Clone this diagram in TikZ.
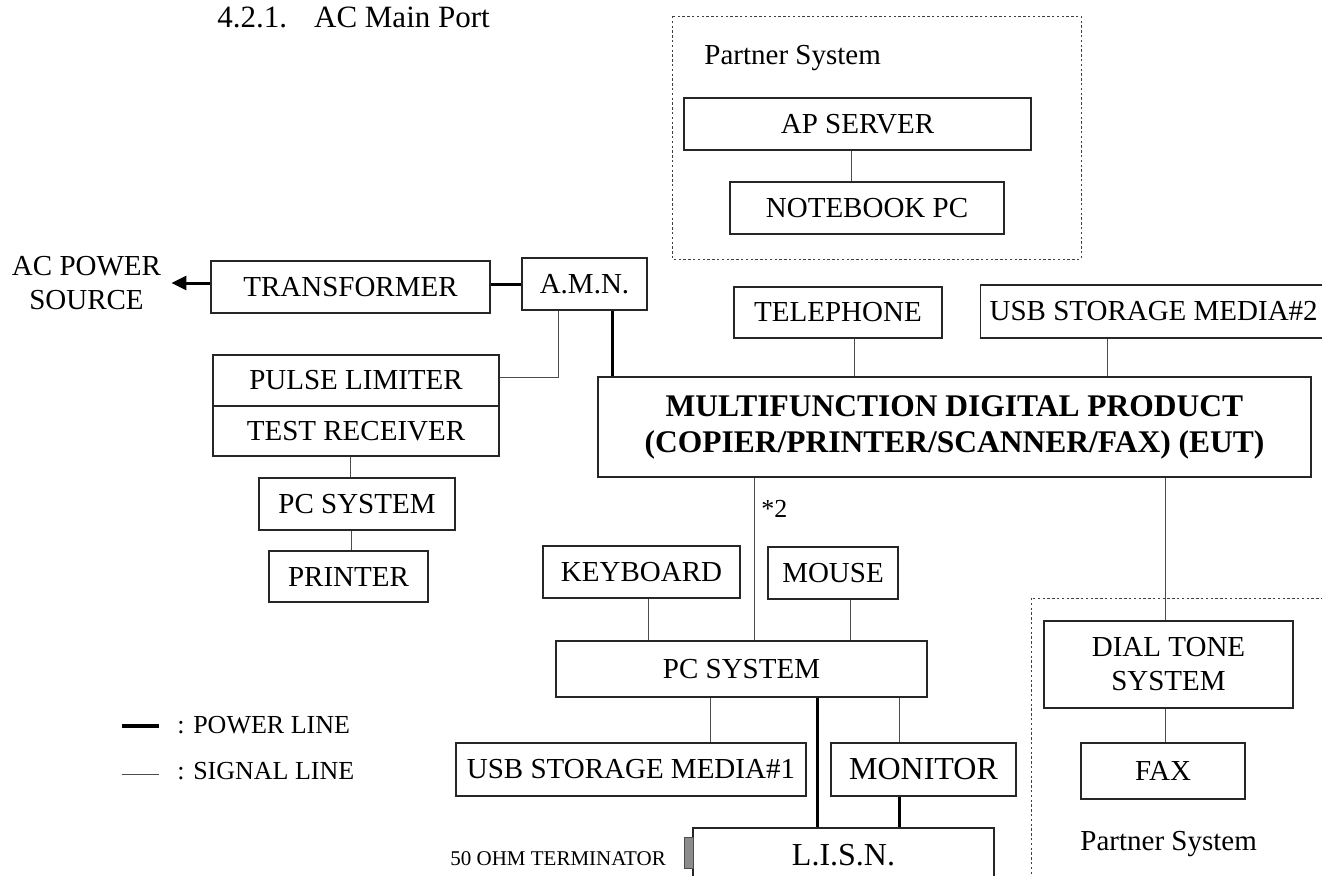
\documentclass[tikz,border=0pt]{standalone}
\usepackage{fontspec}
\setmainfont{Liberation Serif}
\usetikzlibrary{arrows.meta}

\newcommand{\unitfont}{\fontsize{14.5}{17}\selectfont}
\newcommand{\bigfont}{\fontsize{16}{18}\selectfont}
\newcommand{\mfdfont}{\fontsize{15.75}{18}\selectfont\bfseries}
\newcommand{\legfont}{\fontsize{13}{15}\selectfont}
\newcommand{\termfont}{\fontsize{10.5}{12}\selectfont}

\begin{document}
\begin{tikzpicture}[x=0.5pt,y=0.5pt,yscale=-1,
    unit/.style={draw=black!85,line width=0.6pt,inner sep=0pt,font=\unitfont,align=center},
    wh/.style 2 args={minimum width=#1*0.5pt,minimum height=#2*0.5pt},
    signal/.style={draw=black!70,line width=0.5pt},
    power/.style={draw=black,line width=1.5pt},
    partner/.style={draw=black!75,line width=0.5pt,dash pattern={on 1.2pt off 1.2pt}}]
\useasboundingbox (0,0) rectangle (1322,875);
\clip (0,0) rectangle (1322,875);

% Title
\node[anchor=base west,inner sep=0pt,font=\fontsize{15.5}{18}\selectfont] (title) at (217,27) {4.2.1.\hspace{13.5pt}AC Main Port};

% Partner systems
\draw[partner] (672,16) rectangle (1081,259);
\draw[partner] (1031,598) rectangle (1360,900);
\node[anchor=base west,inner sep=0pt,font=\unitfont] (ptop) at (704,64) {Partner System};
\node[anchor=base west,inner sep=0pt,font=\unitfont] (pbot) at (1080,850) {Partner System};

% Units
\node[inner xsep=5pt,inner ysep=0pt,font=\unitfont,align=center] (acps) at (86.5,283) {AC POWER\\SOURCE};
\node[unit,wh={279}{52}] (trans) at (350.5,287) {TRANSFORMER};
\node[unit,wh={125}{52}] (amn) at (584.5,284) {A.M.N.};
\node[unit,wh={286}{51}] (pulse) at (356,380.5) {PULSE LIMITER};
\node[unit,wh={286}{50}] (testrx) at (356,431) {TEST RECEIVER};
\node[unit,wh={196}{52}] (pcl) at (357,504) {PC SYSTEM};
\node[unit,wh={159}{51}] (prn) at (348.5,576.5) {PRINTER};
\node[unit,wh={347}{52}] (ap) at (857.5,124) {AP SERVER};
\node[unit,wh={274}{52}] (nb) at (867,208) {NOTEBOOK PC};
\node[unit,wh={208}{51}] (tel) at (838,312.5) {TELEPHONE};
\node[unit,anchor=west,inner xsep=4.5pt,minimum height=26.5pt] (usb2) at (980,311.5) {USB STORAGE MEDIA\#2\hspace*{20pt}};
\node[unit,wh={713}{100},font=\mfdfont] (mfd) at (954.5,427) {MULTIFUNCTION DIGITAL PRODUCT\\(COPIER/PRINTER/SCANNER/FAX) (EUT)};
\node[unit,wh={197}{52}] (kb) at (641.5,572) {KEYBOARD};
\node[unit,wh={130}{52}] (mouse) at (833,573) {MOUSE};
\node[unit,wh={371}{56}] (pcc) at (741.5,669) {PC SYSTEM};
\node[unit,wh={350}{53}] (usb1) at (631,769.5) {USB STORAGE MEDIA\#1};
\node[unit,wh={185}{53},font=\bigfont] (mon) at (923.5,769.5) {MONITOR};
\node[unit,wh={301}{54},font=\bigfont] (lisn) at (843.5,855) {L.I.S.N.};
\node[draw=black!70,fill=black!45,line width=0.5pt,inner sep=0pt,wh={9}{31}] (term) at (688.5,852.5) {};
\node[anchor=base west,inner sep=0pt,font=\termfont] (termlbl) at (450,865) {50 OHM TERMINATOR};
\node[unit,wh={249}{87}] (dial) at (1168.5,664.5) {DIAL TONE\\SYSTEM};
\node[unit,wh={164}{56}] (fax) at (1163,771) {FAX};
\node[anchor=base west,inner sep=0pt,font=\legfont] (star) at (761,517) {*2};

% Power lines
\draw[power,-{Triangle[length=7.5pt,width=7pt]}] (trans.west |- 0,283) -- (acps.east |- 0,283);
\draw[power] (amn.west -| trans.east) -- (amn.west);
\draw[power] (amn.south -| 612,0) -- (mfd.north -| 612,0);
\draw[power] (pcc.south -| 817,0) -- (lisn.north -| 817,0);
\draw[power] (mon.south -| 899,0) -- (lisn.north -| 899,0);

% Signal lines
\draw[signal] (amn.south -| 558,0) |- (pulse.east |- 0,377);
\draw[signal] (testrx.south -| 350,0) -- (pcl.north -| 350,0);
\draw[signal] (pcl.south -| 351,0) -- (prn.north -| 351,0);
\draw[signal] (ap.south -| 851,0) -- (nb.north -| 851,0);
\draw[signal] (tel.south -| 854,0) -- (mfd.north -| 854,0);
\draw[signal] (usb2.south -| 1107,0) -- (mfd.north -| 1107,0);
\draw[signal] (mfd.south -| 754,0) -- (pcc.north -| 754,0);
\draw[signal] (mfd.south -| 1165,0) -- (dial.north -| 1165,0);
\draw[signal] (kb.south -| 648,0) -- (pcc.north -| 648,0);
\draw[signal] (mouse.south -| 850,0) -- (pcc.north -| 850,0);
\draw[signal] (pcc.south -| 710,0) -- (usb1.north -| 710,0);
\draw[signal] (pcc.south -| 899,0) -- (mon.north -| 899,0);
\draw[signal] (dial.south -| 1165,0) -- (fax.north -| 1165,0);

% Legend
\node[anchor=base west,inner sep=0pt,font=\legfont] (lpow) at (177,733) {: POWER LINE};
\node[anchor=base west,inner sep=0pt,font=\legfont] (lsig) at (177,779) {: SIGNAL LINE};
\draw[power,line width=2pt] (122,726) -- (159,726);
\draw[signal] (122,774) -- (159,774);
\end{tikzpicture}
\end{document}
